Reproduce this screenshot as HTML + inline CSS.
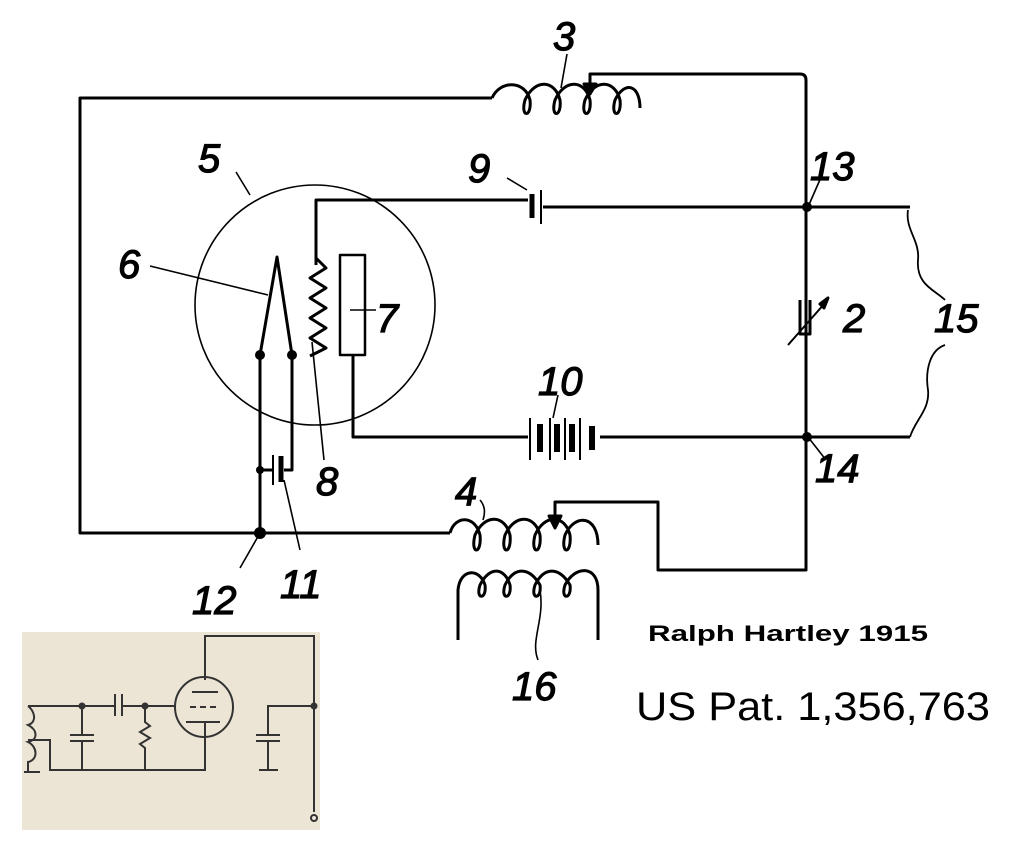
<!DOCTYPE html>
<html><head><meta charset="utf-8"><style>
html,body{margin:0;padding:0;background:#fff;}
svg{display:block}
.l{font-family:"Liberation Sans",sans-serif;font-style:italic;font-size:40px;fill:#000;stroke:#000;stroke-width:1.2}
</style></head><body>
<svg width="1034" height="850" viewBox="0 0 1034 850" xmlns="http://www.w3.org/2000/svg">
<g fill="none" stroke="#000" stroke-width="3" stroke-linejoin="round">
<path d="M492,98 H80 V533 H450"/>
<path d="M492,98 C500,80 525,80 530,100 C532,118 520,118 525,100 C535,78 555,80 560,100 C562,118 550,118 555,100 C565,78 585,80 590,100 C592,118 580,118 585,100 C595,78 615,80 620,100 C622,118 610,118 615,100 C625,80 640,85 640,108"/>
<path d="M590,90 V74 H800 Q806,74 806,80 V570 H658 V502 H555 V520"/>
<path d="M549,516 L555,528 L561,516 Z" fill="#000"/>
<path d="M584,84 L590,94 L596,84 Z" fill="#000"/>
<path d="M450,533 C455,515 475,515 480,535 C482,555 470,555 475,535 C485,513 505,515 510,535 C512,555 500,555 505,535 C515,513 535,515 540,535 C542,555 530,555 535,535 C545,513 565,515 570,535 C572,555 560,555 565,535 C575,513 598,515 598,545"/>
<path d="M458,640 V590 C460,568 480,568 485,585 C487,600 475,600 480,585 C490,565 505,568 510,585 C512,600 500,600 505,585 C515,565 530,568 540,585 C542,600 530,600 535,585 C545,565 560,568 570,585 C572,600 560,600 565,585 C575,565 598,565 598,590 V640"/>
<circle cx="315" cy="305" r="120" stroke-width="1.6"/>
<path d="M316,265 V200 H528"/>
<path d="M543,207 H910"/>
<path d="M532,194 V218" stroke-width="5"/>
<path d="M541,190 V224" stroke-width="2"/>
<path d="M316,258 L326,268 L310,278 L326,288 L310,298 L326,308 L310,318 L326,328 L310,338 L326,348 L310,356"/>
<rect x="340" y="255" width="25" height="100" stroke-width="2.5"/>
<path d="M353,355 V437 H528"/>
<path d="M600,437 H910"/>
<path d="M530,418 V460 M550,418 V460 M565,418 V460 M580,418 V460" stroke-width="2"/>
<path d="M540,424 V452 M557,424 V452 M572,424 V452 M592,426 V450" stroke-width="6"/>
<path d="M260,355 L277,257 L292,355"/>
<path d="M260,355 V533 M292,355 V470 H284"/>
<path d="M273,455 V485" stroke-width="2"/>
<path d="M281,456 V482" stroke-width="5"/>
<path d="M260,470 H273"/>
<path d="M806,290 V334 M800,300 V334 H810 V300"/>
<path d="M788,345 L825,303" stroke-width="2"/>
<path d="M820,304 L828,298 L824,308 Z" fill="#000"/>
<path d="M908,210 C905,230 920,240 918,260 C916,285 935,290 945,300" stroke-width="1.8"/>
<path d="M945,345 C930,350 925,370 928,390 C930,410 915,420 910,437" stroke-width="1.8"/>
<g stroke-width="1.6">
<path d="M236,172 L250,195"/>
<path d="M150,266 L268,295"/>
<path d="M350,310 L376,310"/>
<path d="M312,342 L324,460"/>
<path d="M507,178 L527,190"/>
<path d="M558,395 L553,418"/>
<path d="M822,175 L808,207"/>
<path d="M808,437 L826,460"/>
<path d="M260,533 L240,568"/>
<path d="M284,480 L300,550"/>
<path d="M567,54 L561,88"/>
<path d="M483,520 Q487,508 480,500"/>
<path d="M540,590 C545,620 530,640 538,660"/>
</g>
</g>
<g fill="#000">
<circle cx="260" cy="355" r="5"/><circle cx="292" cy="355" r="5"/>
<circle cx="260" cy="470" r="4"/><circle cx="260" cy="533" r="6"/>
<circle cx="807" cy="207" r="5"/><circle cx="807" cy="437" r="5"/>
</g>
<text class="l" x="553" y="50">3</text>
<text class="l" x="198" y="172">5</text>
<text class="l" x="118" y="278">6</text>
<text class="l" x="376" y="332">7</text>
<text class="l" x="316" y="495">8</text>
<text class="l" x="468" y="182">9</text>
<text class="l" x="538" y="395">10</text>
<text class="l" x="280" y="598">11</text>
<text class="l" x="192" y="614">12</text>
<text class="l" x="810" y="180">13</text>
<text class="l" x="815" y="482">14</text>
<text class="l" x="934" y="332">15</text>
<text class="l" x="512" y="700">16</text>
<text class="l" x="843" y="332">2</text>
<text class="l" x="455" y="505">4</text>
<text x="648" y="641" font-family="Liberation Sans,sans-serif" font-weight="bold" font-size="22" textLength="280" lengthAdjust="spacingAndGlyphs">Ralph Hartley 1915</text>
<text x="636" y="720" font-family="Liberation Sans,sans-serif" font-size="40" textLength="354" lengthAdjust="spacingAndGlyphs">US Pat. 1,356,763</text>
<rect x="22" y="632" width="298" height="198" fill="#ece4d4"/>
<g fill="none" stroke="#333" stroke-width="2">
<path d="M205,680 V636 H314 V812"/>
<circle cx="314" cy="818" r="3"/>
<ellipse cx="204" cy="707" rx="29" ry="30"/>
<path d="M192,692 H218 M186,722 H220 M205,722 V770 H50 V740 H28"/>
<path d="M190,707 H196 M200,707 H206 M210,707 H216" />
<path d="M28,706 H115 M122,706 H175"/>
<path d="M115,694 V716 M122,694 V716"/>
<path d="M28,706 C34,710 38,722 28,725 C38,730 38,740 28,742 C38,747 38,760 28,762 V772"/>
<path d="M82,706 V735 M70,735 H94 M70,741 H94 M82,741 V770 M73,770 H92"/>
<path d="M145,706 V722 L150,726 L140,732 L150,738 L140,744 L145,748 V770 M136,770 H155"/>
<path d="M314,706 H268 V735 M256,735 H280 M256,741 H280 M268,741 V770 M259,770 H278"/>
<path d="M24,772 H40"/>
</g>
<g fill="#333"><circle cx="82" cy="706" r="3.5"/><circle cx="145" cy="706" r="3.5"/><circle cx="314" cy="706" r="3.5"/></g>
</svg>
</body></html>
